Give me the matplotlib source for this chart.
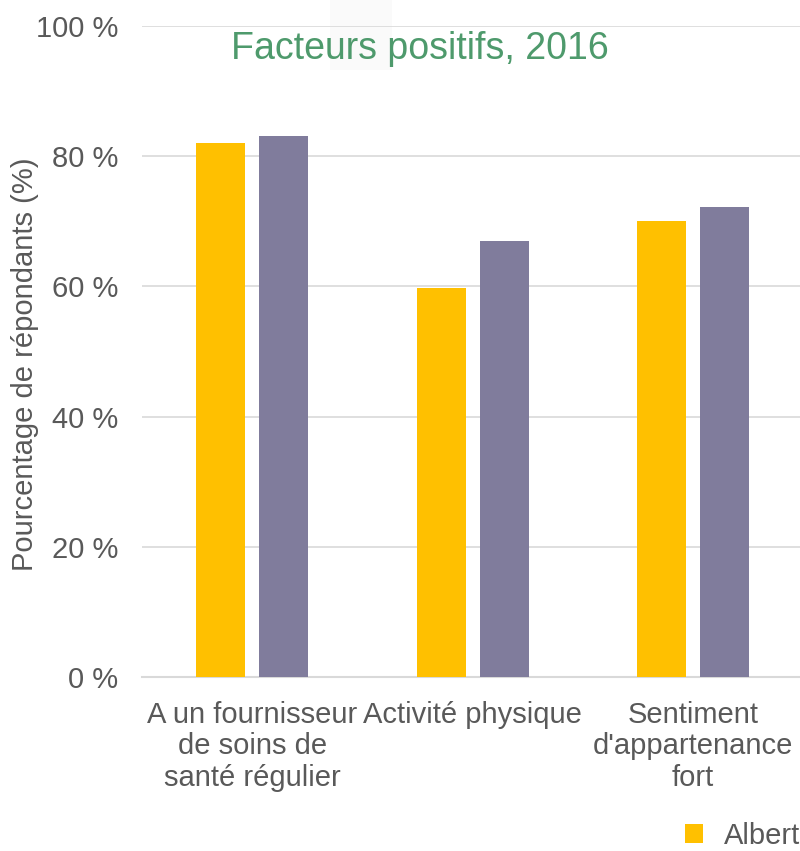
import matplotlib
matplotlib.use("Agg")
import matplotlib.pyplot as plt
from matplotlib.patches import Rectangle, Patch
import numpy as np

plt.rcParams['font.family'] = ['Liberation Sans', 'DejaVu Sans']

categories = ["A un fournisseur\nde soins de\nsanté régulier",
              "Activité physique",
              "Sentiment\nd'appartenance\nfort"]
series_names = ["Alberta", "Canada"]
alberta = [82, 59.8, 70]
canada = [83, 67, 72.2]
yticks = [0, 20, 40, 60, 80, 100]
ytick_labels = ["0 %", "20 %", "40 %", "60 %", "80 %", "100 %"]

text_grey = '#595959'
colors = ['#FFC000', '#807C9C']

fig = plt.figure(figsize=(8, 8.51), dpi=100)
ax = fig.add_axes([0.1775, 0.2039, 0.8265, 0.7661])

# faint light block behind the title area
fig.patches.append(Rectangle((0.4125, 0.918), 0.077, 0.082, transform=fig.transFigure,
                             facecolor='#FAFAFA', edgecolor='none', zorder=-5))

x = np.arange(len(categories))
w = 0.222
off = 0.143
ax.bar(x - off, alberta, w, color=colors[0], zorder=3)
ax.bar(x + off, canada, w, color=colors[1], zorder=3)

ax.set_xlim(-0.5, 2.5)
ax.set_ylim(0, 100)
ax.set_yticks(yticks)
ax.set_yticklabels(ytick_labels)
ax.set_xticks(x)
ax.set_xticklabels(categories, linespacing=1.15)
ax.tick_params(axis='y', length=0, pad=17, labelsize=21, labelcolor=text_grey)
ax.tick_params(axis='x', length=0, pad=17, labelsize=21, labelcolor=text_grey)
ax.yaxis.grid(True, color='#D9D9D9', linewidth=1.2, zorder=0)
ax.set_axisbelow(True)
for s in ['top', 'right', 'left']:
    ax.spines[s].set_visible(False)
ax.spines['bottom'].set_color('#D9D9D9')
ax.spines['bottom'].set_linewidth(1.5)
ax.patch.set_alpha(0)

ax.set_ylabel("Pourcentage de répondants (%)", fontsize=21, color=text_grey)
ax.yaxis.set_label_coords(-0.156, 0.48)

fig.text(0.525, 0.943, "Facteurs positifs, 2016", fontsize=27, color='#4E9A6C',
         ha='center', va='center')

handles = [Patch(facecolor=c, edgecolor='none') for c in colors]
fig.legend(handles, series_names, loc='upper left', bbox_to_anchor=(0.856, 0.034),
           ncol=2, frameon=False, fontsize=21, handlelength=0.62, handleheight=0.62,
           handletextpad=0.72, labelcolor=text_grey, borderaxespad=0, borderpad=0)

fig.savefig('out.png', dpi=100)
